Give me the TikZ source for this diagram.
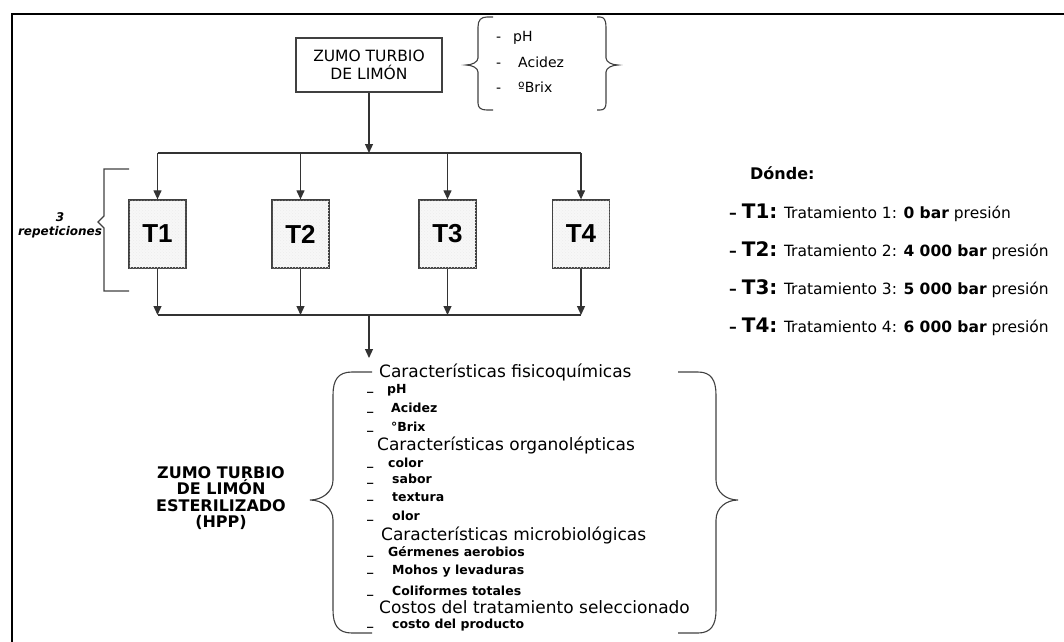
\documentclass[tikz,border=0pt]{standalone}
\usepackage{fontspec}
\setmainfont{DejaVu Sans}
\newfontfamily\arialfont{Liberation Sans}
\usetikzlibrary{arrows.meta,patterns}

\begin{document}
\begin{tikzpicture}[x=1pt,y=-1pt]
\tikzstyle{every node}+=[inner sep=0pt]
\tikzstyle{linea}=[draw=black!80, line width=1.2pt]
\tikzstyle{flecha}=[linea, -{Triangle[length=9pt,width=8pt]}]
\tikzstyle{llave}=[draw=black!75, line width=1.1pt]
\tikzstyle{caja}=[draw=black!75, line width=1.3pt, fill=black!3, postaction={pattern=crosshatch dots, pattern color=black!7}, minimum width=57pt, minimum height=68pt, font=\arialfont\fontsize{26}{26}\bfseries]
\tikzstyle{titulo}=[anchor=west, font=\fontsize{17}{17}\selectfont]
\tikzstyle{item}=[anchor=west, font=\fontsize{12.5}{12.5}\bfseries]
\tikzstyle{medida}=[anchor=west, font=\fontsize{14}{14}\selectfont]
\newcommand{\guion}{\raisebox{2.5pt}{\_}}
\useasboundingbox (0,0) rectangle (1064,641);

% marco
\draw [line width=2.5pt] (12,650) -- (12,14) -- (1075,14);

% zumo de partida
\node (zumo) [draw=black!75, line width=1.1pt, minimum width=146pt, minimum height=54pt, align=center, font=\fontsize{15.5}{17.5}\selectfont] at (369,65) {ZUMO TURBIO\\DE LIMÓN};
\draw [llave] (493,17) -- (487,17) .. controls (481,17) and (478,20) .. (478,27) -- (478,58) .. controls (478,62) and (472,65) .. (466,65) .. controls (472,65) and (478,68) .. (478,72) -- (478,103) .. controls (478,108) and (481,110) .. (487,110) -- (493,110);
\draw [llave] (597,17) -- (600,17) .. controls (604,17) and (606,20) .. (606,27) -- (606,58) .. controls (606,62) and (612,65) .. (618,65) .. controls (612,65) and (606,68) .. (606,72) -- (606,103) .. controls (606,108) and (604,110) .. (600,110) -- (597,110);
\node (ph0) [medida] at (496,38) {\makebox[17pt][l]{-}pH};
\node (acidez0) [medida] at (496,62) {\makebox[22pt][l]{-}Acidez};
\node (brix0) [medida] at (496,87) {\makebox[22pt][l]{-}ºBrix};

% tratamientos
\coordinate (split) at (369,153);
\coordinate (merge) at (369,315);
\draw [flecha] (zumo) -- (split);
\foreach \i/\x in {1/157.5, 2/300.5, 3/447.5, 4/581} {
  \coordinate (s\i) at (\x,153);
  \coordinate (m\i) at (\x,315);
  \node (t\i) [caja] at (\x,234) {T\i};
  \draw [flecha] (s\i) -- (t\i);
  \draw [flecha] (t\i) -- (m\i);
}
\draw [linea] (s1) -- (s4);
\draw [linea] (m1) -- (m4);

% repeticiones
\draw [llave] (129,169) -- (104,169) -- (104,216) -- (98,222) -- (104,228) -- (104,291) -- (129,291);
\node (rep) [align=center, font=\fontsize{12}{14}\bfseries\itshape] at (60,225) {3\\repeticiones};

% leyenda
\node (donde) [anchor=west, font=\fontsize{16}{16}\bfseries] at (750,173) {Dónde:};
\foreach \i/\p/\y in {1/0/213, 2/4 000/251, 3/5 000/289, 4/6 000/327}
  \node (d\i) [anchor=west, font=\fontsize{15.5}{15.5}\selectfont] at (729,\y) {{\bfseries –} {\fontsize{20}{20}\bfseries T\i:} Tratamiento \i: {\bfseries \p~bar} presión};

% producto final
\coordinate (caract) at (369,358);
\draw [flecha] (merge) -- (caract);
\node (final) [align=center, font=\fontsize{16}{16.5}\bfseries] at (221,498) {ZUMO TURBIO\\DE LIMÓN\\ESTERILIZADO\\(HPP)};
\draw [llave] (372,372) -- (352,372) .. controls (338,372) and (333,380) .. (333,395) -- (333,480) .. controls (333,492) and (322,500) .. (310,500) .. controls (322,500) and (333,508) .. (333,520) -- (333,610) .. controls (333,625) and (338,633) .. (352,633) -- (372,633);
\draw [llave] (678,372) -- (698,372) .. controls (711,372) and (716,380) .. (716,395) -- (716,480) .. controls (716,492) and (726,500) .. (738,500) .. controls (726,500) and (716,508) .. (716,520) -- (716,610) .. controls (716,625) and (711,633) .. (698,633) -- (678,633);

\node (fq) [titulo] at (379,372) {Características fisicoquímicas};
\node (ph) [item] at (367,390) {\makebox[20pt][l]{\guion}pH};
\node (acidez) [item] at (367,408) {\makebox[24pt][l]{\guion}Acidez};
\node (brix) [item] at (367,427) {\makebox[24pt][l]{\guion}°Brix};
\node (org) [titulo] at (377,445) {Características organolépticas};
\node (color) [item] at (367,463) {\makebox[21pt][l]{\guion}color};
\node (sabor) [item] at (367,479) {\makebox[25pt][l]{\guion}sabor};
\node (textura) [item] at (367,497) {\makebox[25pt][l]{\guion}textura};
\node (olor) [item] at (367,516) {\makebox[25pt][l]{\guion}olor};
\node (mic) [titulo] at (381,535) {Características microbiológicas};
\node (germ) [item] at (367,552) {\makebox[21pt][l]{\guion}Gérmenes aerobios};
\node (mohos) [item] at (367,571) {\makebox[25pt][l]{\guion}Mohos y levaduras};
\node (coli) [item] at (367,591) {\makebox[25pt][l]{\guion}Coliformes totales};
\node (cos) [titulo] at (379,607) {Costos del tratamiento seleccionado};
\node (costo) [item] at (367,625) {\makebox[25pt][l]{\guion}costo del producto};
\end{tikzpicture}
\end{document}
